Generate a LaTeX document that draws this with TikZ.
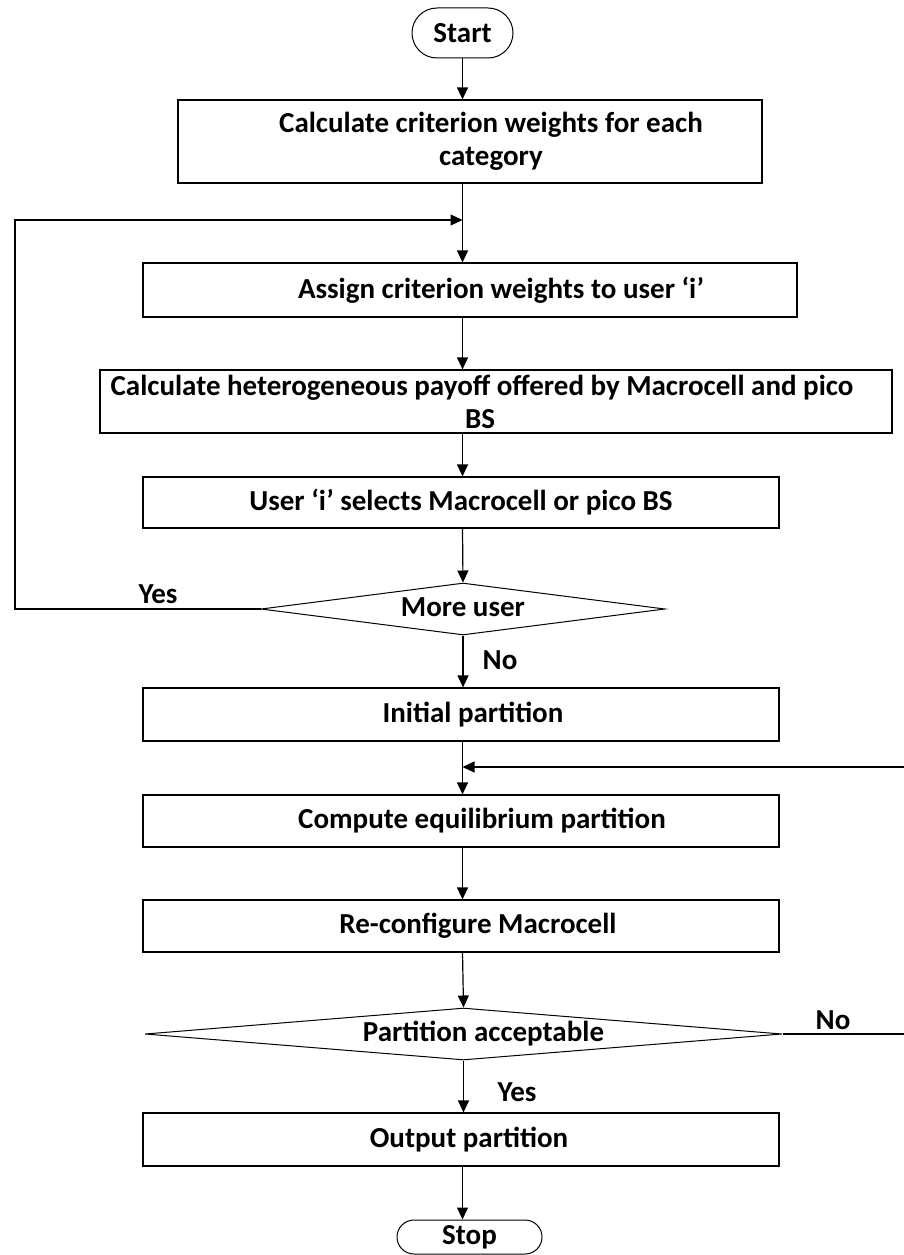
\documentclass[tikz,border=0pt]{standalone}
\usepackage{fontspec}
\setmainfont{Carlito}
\usetikzlibrary{arrows.meta, shapes.geometric}

% 文字相对框中心的水平偏移 (正值右移, 负值左移)
\newcommand{\rgt}[1]{\hspace*{#1}}

\begin{document}
\begin{tikzpicture}[x=1pt, y=-1pt, >={Triangle[length=12pt, width=11pt]},
  every node/.style={font=\fontsize{29}{33}\selectfont\bfseries},
  box/.style={draw, line width=1.2pt, minimum width=636pt, minimum height=52pt, align=center, inner sep=1pt},
  term/.style={draw, line width=1pt, inner sep=0pt},
  decide/.style={draw, diamond, aspect=12, inner sep=0pt, text height=18pt, text depth=4pt,
    line width=1pt, minimum height=52pt},
  arr/.style={->, line width=1.2pt}]

  % 画布 (参考图 904 x 1255)
  \useasboundingbox (0,0) rectangle (904,1255);

  % 1. 起止与处理框
  \node[term, minimum width=101pt, minimum height=50pt, rounded corners=25pt] (start) at (462.5,33) {Start};
  \node[box, minimum width=584pt, minimum height=83pt] (weights) at (470,141.5)
    {\rgt{42pt}Calculate criterion weights for each\\\rgt{42pt}category};
  \node[box, minimum width=654pt, minimum height=54pt] (assign) at (470,290)
    {\rgt{62pt}Assign criterion weights to user `i'};
  \node[box, minimum width=792pt, minimum height=63pt] (payoff) at (496,401.5)
    {Calculate heterogeneous payoff offered by Macrocell and pico\rgt{28pt}\\BS\rgt{32pt}};
  \node[box, minimum height=51pt] (select) at (461,502.5)
    {User `i' selects Macrocell or pico BS};
  \node[decide, minimum width=404pt] (more) at (463,609) {More user};
  \node[box, minimum height=53pt] (init) at (461,714.5) {\rgt{24pt}Initial partition};
  \node[box] (equil) at (461,821) {\rgt{42pt}Compute equilibrium partition};
  \node[box] (reconf) at (461,926) {\rgt{34pt}Re-configure Macrocell};
  \node[decide, minimum width=637pt] (accept) at (463.5,1034) {\rgt{40pt}Partition acceptable};
  \node[box, minimum height=53pt] (output) at (461,1139.5) {\rgt{16pt}Output partition};
  \node[term, minimum width=145pt, minimum height=34pt, rounded corners=17pt] (stop) at (469.5,1237) {Stop};

  % 2. 主干箭头 (x 与 Start 对齐)
  \draw[arr] (start.south) -- (start.south |- weights.north);
  \draw[arr] (weights.south -| start) -- (assign.north -| start);
  \draw[arr] (assign.south -| start) -- (payoff.north -| start);
  \draw[arr] (payoff.south -| start) -- (select.north -| start);
  \draw[arr] (select.south -| start) -- (more.north);
  \draw[arr] (more.south) -- (init.north -| more);
  \draw[arr] (init.south -| start) -- (equil.north -| start);
  \draw[arr] (equil.south -| start) -- (reconf.north -| start);
  \draw[arr] (reconf.south -| start) -- (accept.north);
  \draw[arr] (accept.south) -- (output.north -| accept);
  \draw[arr] (output.south -| start) -- (stop.north -| start);

  % 3. 回路
  \coordinate (loopL) at (15,220);
  \coordinate (loopR) at (907,767);
  \draw[arr] (more.west) -| (loopL) -- (start |- loopL);
  \draw[arr] (accept.east) -| (loopR) -- (start |- loopR);

  % 4. 判断标注
  \node (yes1) at (158,594) {Yes};
  \node (no1) at (500,660) {No};
  \node (no2) at (833,1020) {No};
  \node (yes2) at (517,1092) {Yes};

\end{tikzpicture}
\end{document}
